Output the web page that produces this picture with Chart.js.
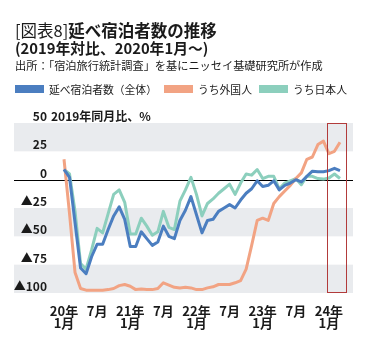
<!DOCTYPE html>
<html>
<head>
<meta charset="utf-8">
<script src="https://cdn.jsdelivr.net/npm/chart.js@4.4.1/dist/chart.umd.min.js"></script>
<style>
    body { margin: 0; background: #fff; font-family: "Noto Sans CJK JP", "Noto Sans", sans-serif; color: #1a1a1a; }
    #wrap { position: relative; width: 367px; height: 340px; }
    #chart { position: absolute; left: 0; top: 0; }
    .txt { position: absolute; left: 15px; white-space: nowrap; }
    #t1 { top: 22px; font-size: 16.5px; line-height: 16px; }
    #t2 { top: 40px; font-size: 14.8px; line-height: 16px; font-weight: bold; }
    #t3 { top: 59px; font-size: 11.2px; line-height: 12px; }
    #legend { position: absolute; left: 15px; top: 82px; width: 360px; font-size: 10.8px; line-height: 14px; display: flex; white-space: nowrap; }
    #legend div { flex: none; margin-right: 7px; }
    #legend span.box { display: inline-block; width: 29px; height: 8px; margin-right: 5px; vertical-align: 1px; }
</style>
</head>
<body>
<div id="wrap">
    <canvas id="chart" width="367" height="340"></canvas>
    <div class="txt" id="t1">[図表8]<b>延べ宿泊者数の推移</b></div>
    <div class="txt" id="t2">(2019年対比、2020年1月～)</div>
    <div class="txt" id="t3">出所：「宿泊旅行統計調査」を基にニッセイ基礎研究所が作成</div>
    <div id="legend"></div>
</div>
<script>
// months: 2020年1月 ... 2024年3月 (51 months), 2019年同月比 %
const seriesNames = ['延べ宿泊者数（全体）', 'うち外国人', 'うち日本人'];

const totalGuests = [
    9, 2, -38, -78, -83, -68, -57, -57, -44, -32, -24, -35,
    -59, -59, -46, -52, -58, -55, -41, -50, -52, -36, -27, -15,
    -31, -47, -36, -35, -28, -25, -22, -25, -18, -12, -8, -1,
    -6, -5, -1, -9, -5, -3, 0, -2, 3, 7.5, 7, 7,
    8, 10, 8
];
const foreignGuests = [
    18, -30, -82, -96, -97.5, -97.5, -97.5, -97.5, -97, -96, -93.5, -92.5,
    -94, -97, -96.5, -97, -97, -96, -91, -93, -95, -95.5, -95, -95.5,
    -97, -97, -95.5, -94.5, -92.5, -92.5, -92.5, -91, -89, -79, -58, -36,
    -34, -36, -21, -15, -10, -5, 1, 6, 18, 20, 31, 34,
    23, 25, 33
];
const japaneseGuests = [
    9, 5, -28, -74, -79, -62, -43, -47, -30, -13, -9, -20,
    -48, -48, -34, -41, -49, -46, -28, -42, -44, -19, -9, 2,
    -13, -32, -21, -17, -12, -8, -4, -13, -3, 5, 4, 9,
    1, 3, 3, -8, -3, -1, 1, -4.5, 3, 3, 1, 0.5,
    1.5, 5, 1
];

const yTicks = [50, 25, 0, -25, -50, -75, -100];
const xTicks = [0, 6, 12, 18, 24, 30, 36, 42, 48];
const startYear = 20;
const highlightFrom = 48;   // 2024年1月
const highlightTo = 50;     // 2024年3月

const colors = ['#4b7ec0', '#f2a383', '#8ccfbd'];
const bands = [[25, 50], [-50, -25], [-100, -75]];

function toPoints(values) {
    return values.map((v, i) => ({ x: i, y: v }));
}

function yLabel(v) {
    return v < 0 ? '▲' + (-v) : String(v);
}

const backgroundPlugin = {
    id: 'backgroundPlugin',
    beforeDatasetsDraw(chart) {
        const { ctx, chartArea, scales } = chart;
        const y = scales.y;
        ctx.save();
        ctx.fillStyle = '#e9ebee';
        bands.forEach(b => {
            const top = y.getPixelForValue(b[1]);
            const bottom = y.getPixelForValue(b[0]);
            ctx.fillRect(chartArea.left, top, chartArea.right - chartArea.left, bottom - top);
        });
        ctx.strokeStyle = '#000';
        ctx.lineWidth = 1;
        const zy = Math.round(y.getPixelForValue(0)) + 0.5;
        ctx.beginPath();
        ctx.moveTo(chartArea.left, zy);
        ctx.lineTo(chartArea.right, zy);
        ctx.stroke();

        // y tick labels sit just above their lines, inside the plot
        ctx.fillStyle = '#1a1a1a';
        ctx.font = 'bold 12px "Noto Sans CJK JP"';
        ctx.textAlign = 'right';
        ctx.textBaseline = 'bottom';
        yTicks.forEach(v => {
            ctx.fillText(yLabel(v), 47, y.getPixelForValue(v) - 0.5);
        });
        ctx.textAlign = 'left';
        ctx.fillText('2019年同月比、%', 51, y.getPixelForValue(50) - 0.5);
        ctx.restore();
    },
    afterDatasetsDraw(chart) {
        const { ctx, chartArea, scales } = chart;
        const left = scales.x.getPixelForValue(highlightFrom - 0.3);
        const right = scales.x.getPixelForValue(highlightTo + 1.1);
        ctx.save();
        ctx.strokeStyle = '#b23b3b';
        ctx.lineWidth = 1;
        ctx.strokeRect(Math.round(left) + 0.5, chartArea.top + 0.5, Math.round(right - left), chartArea.bottom - chartArea.top - 1);
        ctx.restore();
    }
};

const chart = new Chart(document.getElementById('chart'), {
    type: 'line',
    data: {
        datasets: [
            { label: seriesNames[0], data: toPoints(totalGuests), borderColor: colors[0], backgroundColor: colors[0] },
            { label: seriesNames[1], data: toPoints(foreignGuests), borderColor: colors[1], backgroundColor: colors[1] },
            { label: seriesNames[2], data: toPoints(japaneseGuests), borderColor: colors[2], backgroundColor: colors[2] }
        ]
    },
    options: {
        responsive: false,
        animation: false,
        events: [],
        layout: { padding: { left: 14, right: 14, top: 123, bottom: 0 } },
        elements: {
            line: { borderWidth: 3, tension: 0, borderJoinStyle: 'round' },
            point: { radius: 0 }
        },
        plugins: {
            legend: { display: false },
            tooltip: { enabled: false }
        },
        scales: {
            x: {
                type: 'linear',
                min: -9.06,
                max: 52.36,
                grid: { display: false },
                border: { display: false },
                afterBuildTicks: scale => {
                    scale.ticks = xTicks.map(v => ({ value: v }));
                },
                afterFit: scale => { scale.height = 47; },
                ticks: {
                    autoSkip: false,
                    maxRotation: 0,
                    padding: 4,
                    color: '#1a1a1a',
                    font: { family: '"Noto Sans CJK JP"', size: 13, weight: 'bold', lineHeight: '12px' },
                    callback: v => v % 12 === 0 ? [(startYear + v / 12) + '年', '1月'] : '7月'
                }
            },
            y: {
                display: false,
                min: -100,
                max: 50
            }
        }
    },
    plugins: [backgroundPlugin]
});

// html legend built from the chart datasets
const legendEl = document.getElementById('legend');
chart.data.datasets.forEach(ds => {
    const item = document.createElement('div');
    item.innerHTML = '<span class="box" style="background:' + ds.borderColor + '"></span>' + ds.label;
    legendEl.appendChild(item);
});
</script>
</body>
</html>
